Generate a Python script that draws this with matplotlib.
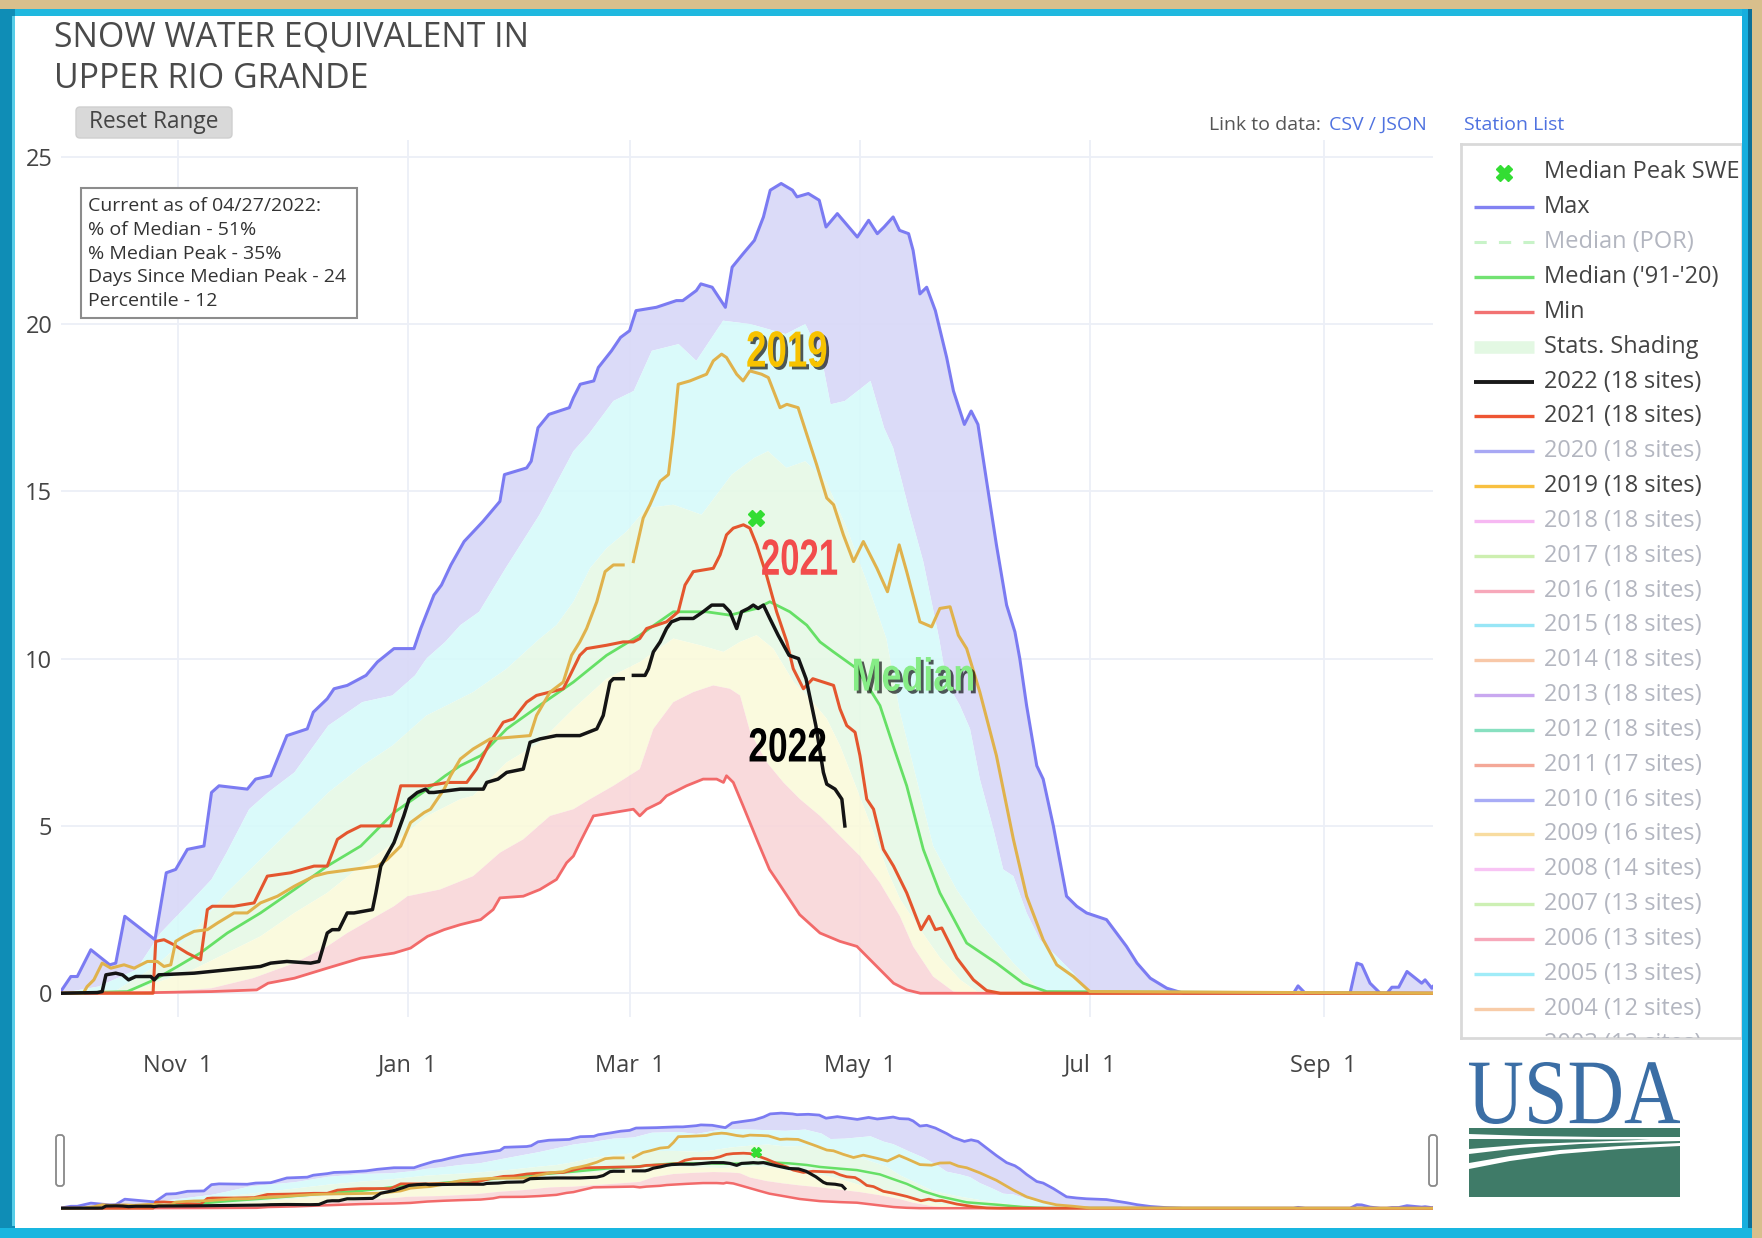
import numpy as np
import matplotlib
matplotlib.use("Agg")
import matplotlib.pyplot as plt
import matplotlib.patheffects as pe
from matplotlib.patches import Rectangle, FancyBboxPatch, Polygon, PathPatch
from matplotlib.textpath import TextPath
from matplotlib.font_manager import FontProperties
from matplotlib.transforms import Affine2D

plt.rcParams['font.family'] = ['Open Sans', 'DejaVu Sans']

# ---- data: day of water year (0 = Oct 1), SWE in inches ----
max_day = [0, 2.7, 4.4, 8, 13, 14.6, 17, 25, 28, 30.5, 33.6, 38, 40, 42, 49.5, 51.7, 55.7, 60, 65.4, 67,
           70.7, 72.5, 76, 81, 84, 88.4, 93.7, 95.5, 99, 101, 103.5, 107, 112, 116.5, 117.7, 123.6, 124.8, 126.6, 129.5, 134.9,
           136, 137.8, 141.4, 142.6, 146.1, 148.5, 150.9, 152.6, 158, 163.3, 165, 168.6, 169.8, 172.8, 176.3, 178.1, 181, 184, 186.4, 188.2,
           191.1, 194.1, 195.3, 198.3, 201.2, 203, 206, 211.3, 214.3, 216.6, 218.4, 220.8, 222.5, 224.9, 226.1, 227.9, 229.7, 232, 235, 236.8,
           239.7, 241.5, 243.3, 245.6, 248.2, 250.9, 253.1, 254.4, 256.2, 258.9, 260.6, 263.3, 266.8, 269.5, 272.1, 277.4, 282.7, 285.5, 289, 293.4,
           297.8, 327, 328.2, 330.1, 342, 343.8, 345.1, 347.3, 350, 351.8, 353.1, 354.9, 357.1, 361, 361.9, 363.7, 364]
max_swe = [0.05, 0.5, 0.5, 1.3, 0.85, 0.9, 2.3, 1.6, 3.6, 3.7, 4.3, 4.4, 6.0, 6.2, 6.1, 6.4, 6.5, 7.7, 7.9, 8.4,
           8.8, 9.1, 9.2, 9.5, 9.9, 10.3, 10.3, 10.9, 11.9, 12.2, 12.8, 13.5, 14.1, 14.7, 15.5, 15.7, 15.9, 16.9, 17.3, 17.5,
           17.8, 18.2, 18.3, 18.7, 19.2, 19.6, 19.8, 20.4, 20.5, 20.7, 20.7, 21.0, 21.2, 21.1, 20.5, 21.7, 22.1, 22.5, 23.2, 24.0,
           24.2, 24.0, 23.8, 23.9, 23.7, 22.9, 23.3, 22.6, 23.1, 22.7, 22.9, 23.2, 22.8, 22.7, 22.2, 20.9, 21.1, 20.4, 19.0, 18.0,
           17.0, 17.4, 17.0, 15.3, 13.4, 11.6, 10.8, 10.0, 8.6, 6.8, 6.4, 5.0, 2.9, 2.6, 2.4, 2.2, 1.4, 0.9, 0.45, 0.15,
           0.0, 0.0, 0.22, 0.0, 0.0, 0.9, 0.85, 0.3, 0.0, 0.0, 0.18, 0.18, 0.65, 0.3, 0.4, 0.15, 0.2]

p90_day = [0, 10, 20, 26.5, 35, 40, 44, 50, 55, 62, 71, 80, 88, 94, 97, 102, 106, 111, 118, 127,
           136, 140, 146.6, 152, 156.8, 163.9, 168.6, 175.7, 182.9, 192.3, 197.5, 201.8, 204.2, 208, 214.8, 218.4, 220.8, 223.1, 224.9, 228.8,
           233, 235, 238.5, 241.2, 243.8, 247.4, 250, 252.7, 256.2, 259.7, 264.2, 268.6, 273, 364]
p90_swe = [0, 0.2, 0.7, 1.8, 2.8, 3.4, 4.2, 5.5, 6.0, 6.6, 8.0, 8.7, 8.9, 9.5, 10.0, 10.5, 11.0, 11.4, 12.7, 14.3,
           16.2, 16.7, 17.7, 18.0, 19.2, 19.4, 18.9, 20.1, 20.0, 19.7, 20.0, 19.0, 17.6, 17.7, 18.3, 16.9, 16.3, 15.3, 14.5, 12.9,
           10.6, 9.3, 8.6, 7.9, 6.4, 4.9, 3.7, 3.5, 2.4, 1.6, 1.1, 0.6, 0.0, 0.0]

p70_day = [0, 15, 25, 35, 44, 53, 62, 71, 80, 88, 97, 100.6, 109.4, 118.3, 127.1, 131.5, 136, 140.4, 144.8, 150.1,
           155.4, 162.5, 170, 178, 184, 187.6, 192.5, 197.5, 203, 208.5, 213.8, 219, 222.6, 227, 231.4, 237.6, 243.8, 252.7, 258.9, 261.5, 364]
p70_swe = [0, 0.1, 0.8, 1.8, 3.0, 4.0, 5.0, 6.0, 6.8, 7.4, 8.3, 8.5, 9.0, 9.7, 10.6, 11.0, 11.7, 12.7, 13.3, 13.8,
           14.5, 14.6, 14.3, 15.5, 16.0, 16.2, 15.7, 15.9, 15.3, 13.9, 12.3, 10.6, 8.4, 6.4, 4.4, 3.1, 2.1, 0.9, 0.2, 0.0, 0.0]

p30_day = [0, 12, 20, 35, 44, 53, 62, 70.7, 79.6, 88.4, 97.3, 106, 109.4, 118.3, 127.1, 136, 144.8, 153.6, 162.5, 169.6,
           175.8, 180.2, 184.6, 189, 194.4, 198.8, 203.2, 206.7, 211.2, 215.6, 219.5, 222.7, 228, 233.3, 238.6, 243, 364]
p30_swe = [0, 0.02, 0.1, 0.7, 1.2, 1.7, 2.4, 3.0, 3.8, 4.5, 5.3, 5.8, 5.9, 6.9, 7.5, 8.5, 9.4, 9.9, 10.6, 10.4,
           10.2, 10.5, 10.7, 10.3, 9.3, 8.8, 8.2, 7.4, 6.1, 4.8, 3.6, 2.8, 1.9, 1.05, 0.4, 0.05, 0]

p10_day = [0, 25, 40, 51, 62, 70.7, 76, 88.4, 92, 100.6, 109.4, 116.5, 122.7, 129.8, 136, 140.4, 146.6, 153.6, 157.2, 162.5,
           167.8, 173.1, 177.5, 180.2, 182.9, 187.3, 191.7, 196.1, 201.4, 206.7, 212, 217.3, 222.6, 226.1, 231.4, 236.8, 240, 364]
p10_swe = [0, 0.02, 0.15, 0.45, 0.9, 1.4, 1.8, 2.6, 2.9, 3.1, 3.5, 4.2, 4.6, 5.3, 5.5, 5.8, 6.2, 6.7, 7.9, 8.7,
           9.0, 9.2, 9.1, 8.9, 7.8, 6.9, 6.3, 5.8, 5.3, 4.7, 4.1, 3.3, 2.3, 1.4, 0.5, 0.05, 0, 0]

min_day = [0, 25, 40, 52, 55, 62, 70.7, 79.6, 88.4, 92.8, 97.3, 101.7, 106, 111.4, 114.7, 116.5, 122.7, 127.1, 131.5, 134.2,
           136, 137.7, 139.5, 141.3, 146.6, 151.9, 153.6, 155.4, 159, 160.7, 166, 170.4, 174, 175.8, 176.6, 178.4, 181, 185, 188, 191,
           196, 201.4, 206.7, 211.2, 215.6, 220.9, 224.4, 228, 364]
min_swe = [0, 0.02, 0.05, 0.1, 0.3, 0.45, 0.75, 1.05, 1.2, 1.35, 1.7, 1.9, 2.05, 2.2, 2.5, 2.85, 2.9, 3.1, 3.4, 3.9,
           4.1, 4.5, 4.9, 5.3, 5.4, 5.5, 5.3, 5.5, 5.7, 5.9, 6.2, 6.4, 6.4, 6.3, 6.5, 6.3, 5.6, 4.5, 3.7, 3.2,
           2.35, 1.8, 1.55, 1.4, 0.9, 0.3, 0.1, 0, 0]

med_day = [0, 17.7, 24.8, 31, 37, 44.2, 53, 62, 70.7, 79.6, 88.4, 97.3, 102, 106, 111.4, 118.3, 127, 136, 144.8, 153.6,
           162.5, 171.3, 177.5, 184.6, 188.1, 193.4, 197.9, 201.4, 205, 211.2, 217.3, 220.8, 224.4, 228.8, 233.2, 240.3, 248.2, 255.3, 261.5, 364]
med_swe = [0, 0.05, 0.4, 0.8, 1.2, 1.8, 2.4, 3.1, 3.8, 4.4, 5.4, 6.1, 6.5, 6.8, 7.1, 7.9, 8.6, 9.3, 10.1, 10.7,
           11.4, 11.4, 11.3, 11.5, 11.7, 11.4, 11.0, 10.5, 10.2, 9.7, 8.6, 7.4, 6.2, 4.3, 3.0, 1.5, 0.9, 0.3, 0.05, 0]

wy2022_day = [0, 9.7, 11, 12, 14.6, 16.4, 18, 19.9, 23.9, 24.8, 26, 35.4, 44.2, 53, 55.7, 60, 66.3, 68.5, 70.7, 72,
              73.8, 76, 77.8, 82.7, 83.6, 84.9, 88.4, 91, 92.4, 94.6, 96.8, 97.7, 99, 106, 112.1, 113, 116, 118.3, 122.7, 124.5,
              127.1, 131.5, 137.7, 142.2, 143.9, 145.7, 146.6, 149.2, 150.5, 151.9, 155, 155.9, 157.2, 159, 160.7, 162, 164.3, 167.8, 170.4, 172.7,
              175.8, 177.5, 179.3, 180.6, 182.4, 183.7, 185, 186.4, 188.1, 190.3, 193.2, 195.7, 197.7, 200.3, 202.3, 203.2, 205.4, 207.2, 208]
wy2022_swe = [0, 0.02, 0.05, 0.55, 0.6, 0.55, 0.4, 0.5, 0.5, 0.4, 0.55, 0.6, 0.7, 0.8, 0.9, 0.95, 0.9, 0.95, 1.8, 1.9,
              1.9, 2.4, 2.4, 2.5, 3.0, 3.8, 4.5, 5.3, 5.8, 6.0, 6.1, 6.0, 6.0, 6.1, 6.1, 6.3, 6.4, 6.6, 6.7, 7.5,
              7.6, 7.7, 7.7, 7.9, 8.3, 9.3, 9.4, 9.4, np.nan, 9.5, 9.5, 9.7, 10.2, 10.5, 10.9, 11.1, 11.2, 11.2, 11.4, 11.6,
              11.6, 11.4, 10.9, 11.4, 11.5, 11.6, 11.5, 11.6, 11.2, 10.7, 10.1, 10.0, 9.4, 8.0, 6.6, 6.25, 6.1, 5.8, 5.0]

wy2021_day = [0, 24.5, 25.2, 27.4, 30, 33.6, 37.1, 38.9, 40.2, 46, 51.3, 54.8, 61, 67.2, 70.7, 73.4, 76, 79.6, 87.5, 90.2,
              97.3, 102.6, 107.7, 110.3, 113.9, 117.4, 120.1, 123.6, 126.2, 133.3, 135.1, 137.7, 139.5, 144.8, 149.2, 151.9, 153.6, 155.4, 160.7, 163.8,
              165.6, 167.8, 173.1, 174.9, 176.6, 178.4, 181.1, 182.8, 184.6, 187.2, 189.9, 192.6, 194.3, 197, 199.5, 205, 206.7, 208.5, 210.7, 212,
              213.8, 215.6, 218.2, 220.9, 224.4, 228.2, 230.3, 232, 233.7, 237.7, 242.1, 245.6, 249.2, 364]
wy2021_swe = [0, 0, 1.55, 1.6, 1.45, 1.2, 1.0, 2.5, 2.6, 2.6, 2.7, 3.5, 3.6, 3.8, 3.8, 4.6, 4.8, 5.0, 5.0, 6.2,
              6.2, 6.3, 6.3, 6.7, 7.5, 8.1, 8.2, 8.7, 8.9, 9.1, 9.5, 10.1, 10.3, 10.4, 10.5, 10.5, 10.6, 10.9, 11.1, 11.4,
              12.2, 12.6, 12.7, 13.1, 13.7, 13.9, 14.0, 13.9, 13.4, 12.5, 11.4, 10.5, 9.7, 9.1, 9.4, 9.2, 8.5, 8.0, 7.8, 7.1,
              5.8, 5.5, 4.3, 3.8, 3.0, 1.9, 2.3, 1.9, 1.95, 1.05, 0.4, 0.08, 0, 0]

wy2019_day = [0, 6, 7, 8.8, 11, 13.3, 16.8, 19.5, 23, 25.6, 27.4, 29.2, 30.5, 32.7, 35.4, 38.9, 41.6, 46, 49.5, 53,
              57.5, 62, 63.7, 67.2, 70.7, 84, 86.6, 90.2, 92.8, 96.4, 98.1, 101.7, 103.4, 106, 109.4, 113.9, 124.5, 126.2, 129.8, 133.3,
              135.5, 137.7, 139.5, 142.2, 144.4, 146.6, 149.2, 150.5, 151.9, 154.5, 156.3, 159, 161.2, 162.5, 163.8, 166.9, 171.3, 173.1, 175.3, 176.6,
              179.3, 181, 182.8, 185.9, 187.7, 190.8, 192.6, 195.6, 197.9, 200.5, 203.2, 205, 207.6, 210.3, 212.9, 216.5, 219.3, 222.4, 224.4, 227.9,
              231, 233.2, 235.9, 238.1, 240.3, 243.8, 248.2, 252.7, 256.2, 260.6, 264.2, 268.6, 273, 364]
wy2019_swe = [0, 0, 0.2, 0.4, 0.9, 0.75, 0.85, 0.75, 0.95, 0.95, 0.8, 0.85, 1.55, 1.7, 1.85, 1.9, 2.1, 2.4, 2.4, 2.7,
              2.9, 3.2, 3.3, 3.5, 3.6, 3.8, 4.0, 4.4, 5.1, 5.4, 5.5, 6.1, 6.5, 7.0, 7.3, 7.6, 7.7, 8.3, 9.0, 9.3,
              10.1, 10.5, 10.9, 11.7, 12.6, 12.8, 12.8, np.nan, 12.9, 14.2, 14.6, 15.3, 15.5, 16.7, 18.2, 18.3, 18.5, 18.9, 19.1, 19.0,
              18.5, 18.3, 18.6, 18.5, 18.4, 17.5, 17.6, 17.5, 16.7, 15.8, 14.8, 14.6, 13.7, 12.9, 13.5, 12.7, 12.0, 13.4, 12.6, 11.1,
              10.95, 11.5, 11.55, 10.7, 10.3, 9.0, 7.1, 4.6, 2.9, 1.6, 0.85, 0.5, 0.05, 0]

peak_day = [184.4]
peak_swe = [14.2]

tick_days = [31, 92, 151, 212, 273, 335]
tick_labels = ['Nov  1', 'Jan  1', 'Mar  1', 'May  1', 'Jul  1', 'Sep  1']

info_lines = ['Current as of 04/27/2022:', '% of Median - 51%', '% Median Peak - 35%',
              'Days Since Median Peak - 24', 'Percentile - 12']

legend_labels = ['Median Peak SWE', 'Max', 'Median (POR)', "Median ('91-'20)", 'Min', 'Stats. Shading',
                 '2022 (18 sites)', '2021 (18 sites)', '2020 (18 sites)', '2019 (18 sites)', '2018 (18 sites)',
                 '2017 (18 sites)', '2016 (18 sites)', '2015 (18 sites)', '2014 (18 sites)', '2013 (18 sites)',
                 '2012 (18 sites)', '2011 (17 sites)', '2010 (16 sites)', '2009 (16 sites)', '2008 (14 sites)',
                 '2007 (13 sites)', '2006 (13 sites)', '2005 (13 sites)', '2004 (12 sites)', '2003 (12 sites)']
legend_colors = ['#33dd33', '#8282f2', '#c8f3c8', '#72e272', '#f27272', '#e3f8e3',
                 '#1a1a1a', '#ee5533', '#a8a8f4', '#f8c040', '#f6b8f2',
                 '#cdefb0', '#f7a8ba', '#98e6f6', '#f8c8a8', '#c9a8f0',
                 '#88e0c0', '#f4a898', '#a8acf6', '#f8dca0', '#f8c4f4',
                 '#cdf0b4', '#f7a8ba', '#a0ecf8', '#f8cca8', '#f7a8ba']
legend_active = [True, True, False, True, True, True, True, True, False, True, False,
                 False, False, False, False, False, False, False, False, False, False,
                 False, False, False, False, False]

# ---- colours ----
C_LAV = '#d8d8f8'
C_CYAN = '#d6fafa'
C_GREEN = '#e6f9e6'
C_YEL = '#fafadb'
C_PINK = '#f9d6d9'
C_MAX = '#7b7bf2'
C_MED = '#66e066'
C_MIN = '#f26a6a'
C_2021 = '#e4562e'
C_2019 = '#e0b24c'
C_2022 = '#141414'
TXT = '#444444'

W, H = 1762, 1238


def rect(x0, y0, x1, y1):
    return [x0 / W, 1 - y1 / H, (x1 - x0) / W, (y1 - y0) / H]


def band(ax, xu, yu, xl, yl, color):
    xs = np.concatenate([np.asarray(xu, float), np.asarray(xl, float)[::-1]])
    ys = np.concatenate([np.asarray(yu, float), np.asarray(yl, float)[::-1]])
    ax.fill(xs, ys, color=color, lw=0, alpha=0.9, zorder=1)


def draw_chart(ax, lw_scale=1.0, marker_size=11):
    band(ax, max_day, max_swe, p90_day, p90_swe, C_LAV)
    band(ax, p90_day, p90_swe, p70_day, p70_swe, C_CYAN)
    band(ax, p70_day, p70_swe, p30_day, p30_swe, C_GREEN)
    band(ax, p30_day, p30_swe, p10_day, p10_swe, C_YEL)
    band(ax, p10_day, p10_swe, min_day, min_swe, C_PINK)
    ax.plot(max_day, max_swe, color=C_MAX, lw=2.2 * lw_scale, zorder=3)
    ax.plot(med_day, med_swe, color=C_MED, lw=2.0 * lw_scale, zorder=3)
    ax.plot(min_day, min_swe, color=C_MIN, lw=2.0 * lw_scale, zorder=3)
    ax.plot(wy2021_day, wy2021_swe, color=C_2021, lw=2.2 * lw_scale, zorder=4)
    ax.plot(wy2019_day, wy2019_swe, color=C_2019, lw=2.2 * lw_scale, zorder=4)
    ax.plot(wy2022_day, wy2022_swe, color=C_2022, lw=2.5 * lw_scale, zorder=5)
    ax.plot(peak_day, peak_swe, ls='none', marker='X', ms=marker_size, color='#33dd33',
            mec='#33dd33', zorder=6)


fig = plt.figure(figsize=(W / 100, H / 100), dpi=100)
fig.patch.set_facecolor('white')

# ---- main plot ----
ax = fig.add_axes(rect(60.7, 140, 1433, 1017))
ax.set_facecolor('none')
draw_chart(ax)
ax.set_xlim(0, 364)
ax.set_ylim(-0.71, 25.5)
ax.set_xticks(tick_days)
ax.set_xticklabels(tick_labels)
ax.set_yticks([0, 5, 10, 15, 20, 25])
ax.grid(True, color='#eceff7', lw=1.3, zorder=0)
ax.set_axisbelow(True)
for s in ax.spines.values():
    s.set_visible(False)
ax.tick_params(axis='both', length=0, labelsize=17, colors=TXT)
ax.tick_params(axis='x', pad=26.5)
ax.tick_params(axis='y', pad=6)

# ---- range slider ----
rs = fig.add_axes(rect(60.7, 1108, 1433, 1211))
rs.set_facecolor('none')
draw_chart(rs, lw_scale=0.9, marker_size=7)
rs.set_xlim(0, 364)
rs.set_ylim(-0.71, 25.5)
rs.set_xticks([])
rs.set_yticks([])
for s in rs.spines.values():
    s.set_visible(False)

# ---- legend ----
lg = fig.add_axes(rect(1461, 144, 1742, 1038))
lg.set_xlim(1461, 1742)
lg.set_ylim(1038, 144)
lg.set_xticks([])
lg.set_yticks([])
for s in lg.spines.values():
    s.set_color('#d9d9d9')
    s.set_linewidth(2)
for i, (lab, col, act) in enumerate(zip(legend_labels, legend_colors, legend_active)):
    y = 172.5 + 34.84 * i
    if i == 0:
        lg.plot([1504], [y], ls='none', marker='X', ms=11, color=col, clip_on=True)
    elif i == 2:
        lg.plot([1474, 1534], [y, y], color=col, lw=2.2, ls=(0, (4, 4)), clip_on=True)
    elif i == 5:
        lg.plot([1474, 1534], [y, y], color=col, lw=9, solid_capstyle='butt', clip_on=True)
    else:
        lg.plot([1474, 1534], [y, y], color=col, lw=2.4 if i != 6 else 2.8,
                solid_capstyle='butt', clip_on=True)
    lg.text(1544, y, lab, fontsize=17, color=TXT if act else '#b3b6c0',
            va='center', ha='left', clip_on=True)

# ---- overlay: frame, title, buttons, info box, logo ----
ov = fig.add_axes([0, 0, 1, 1], zorder=10)
ov.set_xlim(0, W)
ov.set_ylim(H, 0)
ov.axis('off')
ov.patch.set_alpha(0)

# condensed bold annotations, placed at data positions of the main plot
bold_fp = FontProperties(family=['Liberation Sans', 'DejaVu Sans'], weight='bold')
shadow = [pe.withSimplePatchShadow(offset=(2, -2), shadow_rgbFace='black', alpha=0.65)]


def chart_label(s, d, v, w, h, color, effects=None):
    px, py = ov.transData.inverted().transform(ax.transData.transform((d, v)))
    tp = TextPath((0, 0), s, size=100, prop=bold_fp)
    e = tp.get_extents()
    tr = (Affine2D().translate(-(e.x0 + e.x1) / 2, -(e.y0 + e.y1) / 2)
          .scale(w / e.width, -h / e.height).translate(px, py))
    p = PathPatch(tr.transform_path(tp), fc=color, ec='none', zorder=5)
    if effects:
        p.set_path_effects(effects)
    ov.add_patch(p)


chart_label('2019', 192.6, 19.25, 79, 36, '#f7c200', shadow)
chart_label('2021', 196.0, 13.03, 75, 36, '#f24c4c')
chart_label('Median', 226.2, 9.54, 119, 34, '#86ec86', shadow)
chart_label('2022', 192.8, 7.42, 76, 34, 'black')

ov.text(54, 38, 'SNOW WATER EQUIVALENT IN', fontsize=24.4, color='#4a4a4a', va='center', ha='left')
ov.text(54, 79, 'UPPER RIO GRANDE', fontsize=24.4, color='#4a4a4a', va='center', ha='left')

ov.add_patch(FancyBboxPatch((76, 107), 156, 31, boxstyle='round,pad=0,rounding_size=4',
                            fc='#d9d9d9', ec='#cfcfcf', lw=1))
ov.text(154, 121.5, 'Reset Range', fontsize=16.3, color=TXT, ha='center', va='center')

ov.add_patch(Rectangle((81, 188), 276, 130, fc='white', ec='#8c8c8c', lw=1.5))
for k, line in enumerate(info_lines):
    ov.text(88, 206 + 23.8 * k, line, fontsize=14, color='#333333', va='center', ha='left')

ov.text(1209, 125, 'Link to data:', fontsize=14, color='#555555', va='center', ha='left')
ov.text(1329, 125, 'CSV / JSON', fontsize=14, color='#4f72e0', va='center', ha='left')
ov.text(1464, 125, 'Station List', fontsize=14, color='#4f72e0', va='center', ha='left')

# range slider handles
for hx in (56, 1429):
    ov.add_patch(FancyBboxPatch((hx, 1135), 8, 51, boxstyle='round,pad=0,rounding_size=3',
                                fc='white', ec='#888888', lw=1.3))

# USDA logo
fp = FontProperties(family=['Liberation Serif', 'DejaVu Serif'])
tp = TextPath((0, 0), 'USDA', size=100, prop=fp)
ext = tp.get_extents()
sx = (1680 - 1469) / ext.width
sy = (1124 - 1062) / ext.height
tr = Affine2D().translate(-ext.x0, -ext.y0).scale(sx, -sy).translate(1469, 1124)
ov.add_patch(PathPatch(tr.transform_path(tp), fc='#3b6ea5', ec='none'))
LG = '#3f7b68'
ov.add_patch(Polygon([(1469, 1128), (1680, 1128), (1680, 1137), (1600, 1137), (1530, 1136), (1469, 1134)],
                     closed=True, fc=LG, ec='none'))
ov.add_patch(Polygon([(1469, 1139), (1530, 1139), (1600, 1139.5), (1650, 1139.5),
                      (1600, 1141.5), (1530, 1144), (1469, 1149)], closed=True, fc=LG, ec='none'))
ov.add_patch(Polygon([(1469, 1154), (1520, 1148), (1580, 1144), (1640, 1142), (1680, 1141),
                      (1680, 1143), (1620, 1146), (1560, 1150), (1510, 1156), (1469, 1163)],
                     closed=True, fc=LG, ec='none'))
ov.add_patch(Polygon([(1469, 1169), (1510, 1161), (1560, 1154), (1620, 1149), (1680, 1146),
                      (1680, 1197), (1469, 1197)], closed=True, fc=LG, ec='none'))

# outer frame
TAN = '#d8bf8c'
ov.add_patch(Rectangle((0, 0), W, 9, fc=TAN, ec='none'))
ov.add_patch(Rectangle((1752, 0), 10, H, fc=TAN, ec='none'))
ov.add_patch(Rectangle((0, 9), 1752, 7, fc='#1fb8df', ec='none'))
ov.add_patch(Rectangle((0, 9), 15, H, fc='#0f8db6', ec='none'))
ov.add_patch(Rectangle((12, 16), 3, H - 28, fc='#56cde8', ec='none'))
ov.add_patch(Rectangle((1742, 9), 10, H, fc='#16aede', ec='none'))
ov.add_patch(Rectangle((1748, 9), 4, H, fc='#0b6f98', ec='none'))
ov.add_patch(Rectangle((0, 1228), 1752, 10, fc='#19b6e0', ec='none'))

fig.savefig('out.png', dpi=100)
